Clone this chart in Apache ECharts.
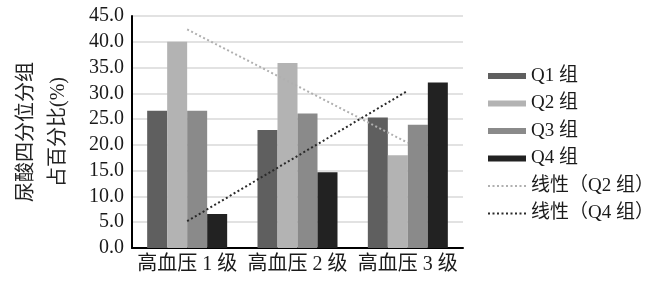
<!DOCTYPE html>
<html><head><meta charset="utf-8">
<script src="https://cdn.jsdelivr.net/npm/echarts@6/dist/echarts.min.js"></script>
<style>html,body{margin:0;padding:0;background:#fff}#c{width:661px;height:284px}</style>
</head><body><div id="c"></div>
<script>
const categories = ['高血压 1 级', '高血压 2 级', '高血压 3 级'];
const seriesNames = ['Q1 组', 'Q2 组', 'Q3 组', 'Q4 组'];
const q1 = [26.6, 22.9, 25.3];
const q2 = [40.0, 35.9, 18.0];
const q3 = [26.6, 26.1, 23.9];
const q4 = [6.6, 14.7, 32.1];
const trendQ2 = [42.4, '-', 20.4];
const trendQ4 = [5.2, '-', 30.5];
const trendNames = ['线性（Q2 组）', '线性（Q4 组）'];
const yTicks = { min: 0, max: 45, interval: 5 };

const FONT = "'Liberation Serif', 'Noto Sans CJK SC', serif";
const colors = ['#5f5f5f', '#b3b3b3', '#8a8a8a', '#222222'];
const chart = echarts.init(document.getElementById('c'), null, { renderer: 'canvas' });
const barData = [q1, q2, q3, q4];
const series = barData.map((d, i) => ({
  name: seriesNames[i], type: 'bar', data: d, barWidth: 20, barGap: '0%',
  itemStyle: { color: colors[i] }, z: 2
}));
series.push({
  name: trendNames[0], type: 'line', data: trendQ2, connectNulls: true, symbol: 'none',
  lineStyle: { color: '#b0b0b0', width: 2, type: [2, 2.5] }, itemStyle: { color: '#b0b0b0' }, z: 5
});
series.push({
  name: trendNames[1], type: 'line', data: trendQ4, connectNulls: true, symbol: 'none',
  lineStyle: { color: '#2a2a2a', width: 2, type: [2, 2.5] }, itemStyle: { color: '#2a2a2a' }, z: 5
});
chart.setOption({
  animation: false,
  grid: { left: 132, right: 198, top: 16, bottom: 36, containLabel: false },
  legend: {
    orient: 'vertical', left: 487, top: 66, padding: 0,
    itemWidth: 38, itemHeight: 6, itemGap: 7.5,
    textStyle: { fontFamily: FONT, fontSize: 19, color: '#1a1a1a', lineHeight: 20 },
    data: [
      { name: seriesNames[0], icon: 'rect' }, { name: seriesNames[1], icon: 'rect' },
      { name: seriesNames[2], icon: 'rect' }, { name: seriesNames[3], icon: 'rect' },
      { name: trendNames[0], itemStyle: { opacity: 0 } }, { name: trendNames[1], itemStyle: { opacity: 0 } }
    ]
  },
  xAxis: {
    type: 'category', data: categories,
    axisLine: { lineStyle: { color: '#000', width: 2 } },
    axisTick: { show: false },
    axisLabel: { fontFamily: FONT, fontSize: 20, color: '#1a1a1a', margin: 7, interval: 0 }
  },
  yAxis: {
    type: 'value', min: yTicks.min, max: yTicks.max, interval: yTicks.interval,
    name: '尿酸四分位分组\n占百分比(%)', nameLocation: 'middle', nameRotate: 90, nameGap: 57,
    nameTextStyle: { fontFamily: FONT, fontSize: 20, color: '#222', lineHeight: 32 },
    axisLine: { show: true, lineStyle: { color: '#000', width: 2 } },
    axisTick: { show: false },
    splitLine: { lineStyle: { color: '#d9d9d9', width: 1.5 } },
    axisLabel: { fontFamily: FONT, fontSize: 20, color: '#1a1a1a', margin: 8,
      formatter: v => v.toFixed(1) }
  },
  series: series
});
</script></body></html>
